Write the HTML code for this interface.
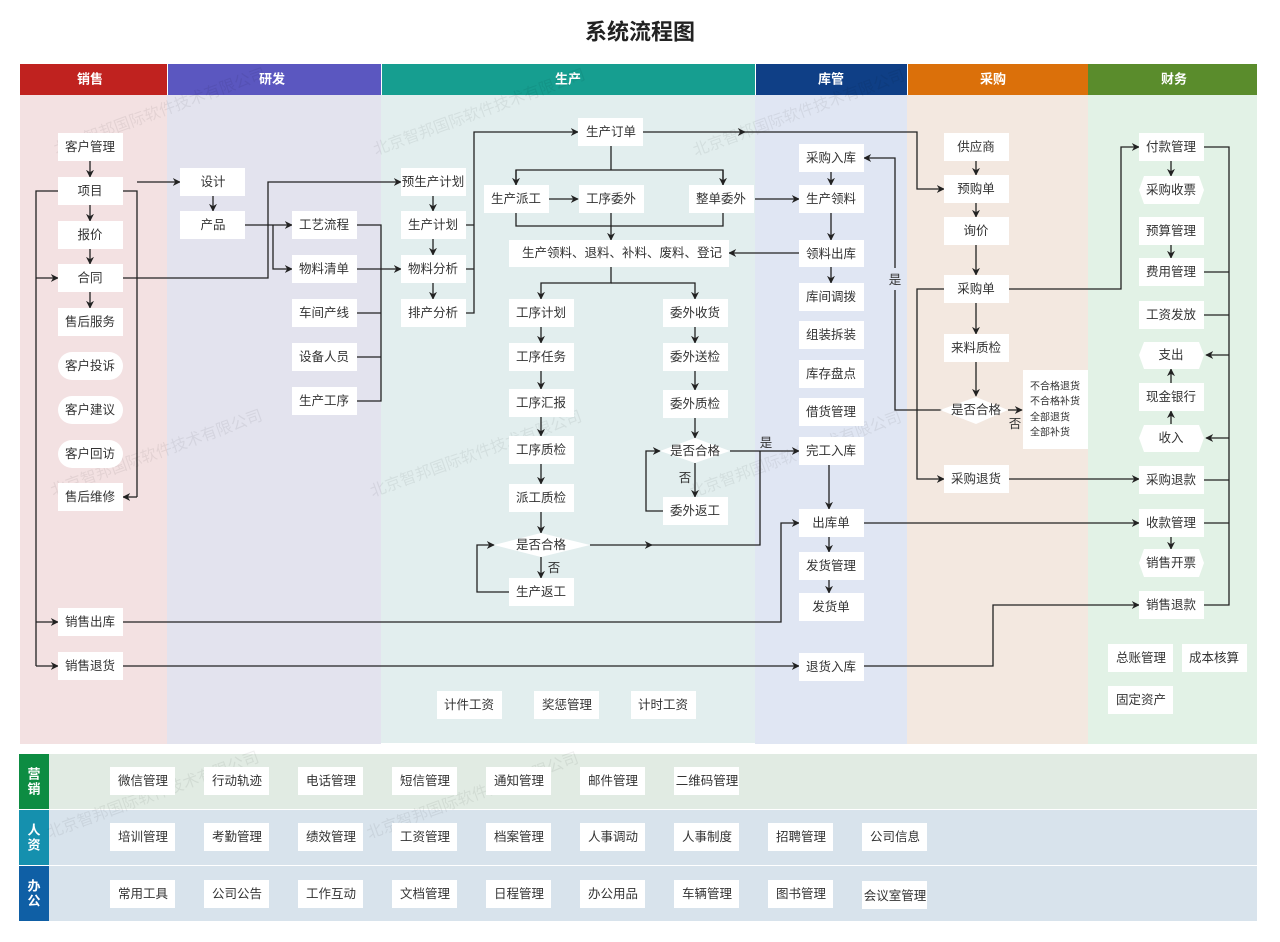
<!DOCTYPE html>
<html><head><meta charset="utf-8"><style>
html,body{margin:0;padding:0;background:#fff;width:1280px;height:942px;overflow:hidden;}
svg{display:block;font-family:"Liberation Sans","Noto Sans CJK SC",sans-serif;}
.b{fill:#fff;}
text{font-size:12.5px;fill:#333;text-anchor:middle;dominant-baseline:central;}
.h{fill:#fff;font-size:13px;font-weight:bold;}
.l{stroke:#222;stroke-width:1.3;fill:none;}
.wm{font-size:16px;fill:#000;opacity:0.06;text-anchor:start;}
</style></head><body>
<svg width="1280" height="942" viewBox="0 0 1280 942" xmlns="http://www.w3.org/2000/svg">
<defs><marker id="a" viewBox="0 0 10 10" refX="9" refY="5" markerWidth="8" markerHeight="8" orient="auto" markerUnits="userSpaceOnUse"><path d="M0,0L10,5L0,10L3,5z" fill="#222"/></marker></defs>
<text x="640" y="32" style="font-size:22px;font-weight:bold;fill:#222">系统流程图</text>
<!-- lanes -->
<rect x="20" y="95" width="147" height="649" fill="#f3e1e2"/>
<rect x="167" y="95" width="214" height="649" fill="#e3e3ee"/>
<rect x="381" y="95" width="374" height="648" fill="#e2eeee"/>
<rect x="755" y="95" width="152" height="649" fill="#e0e6f3"/>
<rect x="907" y="95" width="181" height="649" fill="#f3e8e0"/>
<rect x="1088" y="95" width="169" height="649" fill="#e2f2e6"/>
<rect x="20" y="64" width="147" height="31" fill="#c0221f"/><text class="h" x="90" y="79">销售</text>
<rect x="168" y="64" width="213" height="31" fill="#5b57c0"/><text class="h" x="272" y="79">研发</text>
<rect x="382" y="64" width="373" height="31" fill="#169e90"/><text class="h" x="568" y="79">生产</text>
<rect x="756" y="64" width="151" height="31" fill="#0f3f86"/><text class="h" x="831" y="79">库管</text>
<rect x="908" y="64" width="180" height="31" fill="#db700a"/><text class="h" x="993" y="79">采购</text>
<rect x="1088" y="64" width="169" height="31" fill="#5a8c2c"/><text class="h" x="1174" y="79">财务</text>
<!-- bottom rows -->
<rect x="49" y="754" width="1208" height="55" fill="#e1ebe3"/>
<rect x="49" y="810" width="1208" height="55" fill="#d8e3ec"/>
<rect x="49" y="866" width="1208" height="55" fill="#d8e3ec"/>
<rect x="19" y="754" width="30" height="55" fill="#0d8c42"/>
<rect x="19" y="810" width="30" height="55" fill="#1590ae"/>
<rect x="19" y="866" width="30" height="55" fill="#0f5fa5"/>
<text class="h" x="34" y="774">营</text><text class="h" x="34" y="789">销</text>
<text class="h" x="34" y="830">人</text><text class="h" x="34" y="845">资</text>
<text class="h" x="34" y="886">办</text><text class="h" x="34" y="901">公</text>
<!-- watermarks -->
<g transform="rotate(-20)">
<text class="wm" x="0" y="160">北京智邦国际软件技术有限公司</text>
<text class="wm" x="300" y="270">北京智邦国际软件技术有限公司</text>
<text class="wm" x="600" y="380">北京智邦国际软件技术有限公司</text>
<text class="wm" x="-120" y="480">北京智邦国际软件技术有限公司</text>
<text class="wm" x="180" y="590">北京智邦国际软件技术有限公司</text>
<text class="wm" x="480" y="700">北京智邦国际软件技术有限公司</text>
<text class="wm" x="-240" y="800">北京智邦国际软件技术有限公司</text>
<text class="wm" x="60" y="910">北京智邦国际软件技术有限公司</text>
</g>
<!-- connectors -->
<g class="l">
<path d="M90,161V177" marker-end="url(#a)"/>
<path d="M90,205V221" marker-end="url(#a)"/>
<path d="M90,249V264" marker-end="url(#a)"/>
<path d="M90,292V308" marker-end="url(#a)"/>
<path d="M58,191H36V666"/>
<path d="M36,278H58" marker-end="url(#a)"/>
<path d="M36,622H58" marker-end="url(#a)"/>
<path d="M36,666H58" marker-end="url(#a)"/>
<path d="M123,191H137V497"/>
<path d="M137,182H180" marker-end="url(#a)"/>
<path d="M137,497H123" marker-end="url(#a)"/>
<path d="M123,278H268V182H401" marker-end="url(#a)"/>
<path d="M213,196V211" marker-end="url(#a)"/>
<path d="M245,225H292" marker-end="url(#a)"/>
<path d="M273,225V269H292" marker-end="url(#a)"/>
<path d="M357,225H381V401H357"/>
<path d="M357,313H381M357,357H381"/>
<path d="M357,269H401" marker-end="url(#a)"/>
<path d="M433,196V211" marker-end="url(#a)"/>
<path d="M433,239V255" marker-end="url(#a)"/>
<path d="M433,283V299" marker-end="url(#a)"/>
<path d="M466,225H474M466,269H474"/>
<path d="M466,313H474V132H578" marker-end="url(#a)"/>
<path d="M643,132H745" marker-end="url(#a)"/>
<path d="M740,132H917V189H944" marker-end="url(#a)"/>
<path d="M611,146V170"/>
<path d="M516,185V170H723V185"/>
<path d="M516,170V185" marker-end="url(#a)"/>
<path d="M723,170V185" marker-end="url(#a)"/>
<path d="M549,199H578" marker-end="url(#a)"/>
<path d="M755,199H799" marker-end="url(#a)"/>
<path d="M516,213V226H723V213"/>
<path d="M611,213V240" marker-end="url(#a)"/>
<path d="M799,253H729" marker-end="url(#a)"/>
<path d="M611,267V283H541V299" marker-end="url(#a)"/>
<path d="M611,283H695V299" marker-end="url(#a)"/>
<path d="M541,327V343" marker-end="url(#a)"/>
<path d="M541,371V389" marker-end="url(#a)"/>
<path d="M541,417V436" marker-end="url(#a)"/>
<path d="M541,464V484" marker-end="url(#a)"/>
<path d="M541,512V533" marker-end="url(#a)"/>
<path d="M541,557V578" marker-end="url(#a)"/>
<path d="M509,592H477V545H494" marker-end="url(#a)"/>
<path d="M590,545H652" marker-end="url(#a)"/>
<path d="M650,545H760V451"/>
<path d="M695,327V343" marker-end="url(#a)"/>
<path d="M695,371V390" marker-end="url(#a)"/>
<path d="M695,418V438" marker-end="url(#a)"/>
<path d="M695,463V497" marker-end="url(#a)"/>
<path d="M663,511H646V451H660" marker-end="url(#a)"/>
<path d="M730,451H799" marker-end="url(#a)"/>
<path d="M831,172V185" marker-end="url(#a)"/>
<path d="M831,213V240" marker-end="url(#a)"/>
<path d="M831,267V283" marker-end="url(#a)"/>
<path d="M829,465V509" marker-end="url(#a)"/>
<path d="M829,537V552" marker-end="url(#a)"/>
<path d="M829,580V593" marker-end="url(#a)"/>
<path d="M944,410H895V290M895,268V158H864" marker-end="url(#a)"/>
<path d="M123,622H781V523H799" marker-end="url(#a)"/>
<path d="M123,666H799" marker-end="url(#a)"/>
<path d="M864,666H993V605H1139" marker-end="url(#a)"/>
<path d="M864,523H1139" marker-end="url(#a)"/>
<path d="M976,161V175" marker-end="url(#a)"/>
<path d="M976,203V217" marker-end="url(#a)"/>
<path d="M976,245V275" marker-end="url(#a)"/>
<path d="M976,303V334" marker-end="url(#a)"/>
<path d="M976,362V396" marker-end="url(#a)"/>
<path d="M944,289H917V479H944" marker-end="url(#a)"/>
<path d="M1009,289H1121V147H1139" marker-end="url(#a)"/>
<path d="M1008,410H1022" marker-end="url(#a)"/>
<path d="M1009,479H1139" marker-end="url(#a)"/>
<path d="M1171,161V176" marker-end="url(#a)"/>
<path d="M1171,245V258" marker-end="url(#a)"/>
<path d="M1171,537V549" marker-end="url(#a)"/>
<path d="M1171,424V411" marker-end="url(#a)"/>
<path d="M1171,383V369" marker-end="url(#a)"/>
<path d="M1204,147H1229V605H1204"/>
<path d="M1204,272H1229M1204,315H1229M1204,480H1229M1204,523H1229"/>
<path d="M1229,355H1206" marker-end="url(#a)"/>
<path d="M1229,438H1206" marker-end="url(#a)"/>
</g>
<text x="895" y="280">是</text>
<text x="766" y="443">是</text>
<text x="554" y="568">否</text>
<text x="685" y="478">否</text>
<text x="1015" y="424">否</text>
<!-- boxes -->
<g>
<rect class="b" x="58" y="133" width="65" height="28"/><text x="90" y="147">客户管理</text>
<rect class="b" x="58" y="177" width="65" height="28"/><text x="90" y="191">项目</text>
<rect class="b" x="58" y="221" width="65" height="28"/><text x="90" y="235">报价</text>
<rect class="b" x="58" y="264" width="65" height="28"/><text x="90" y="278">合同</text>
<rect class="b" x="58" y="308" width="65" height="28"/><text x="90" y="322">售后服务</text>
<rect class="b" x="58" y="352" width="65" height="28" rx="14"/><text x="90" y="366">客户投诉</text>
<rect class="b" x="58" y="396" width="65" height="28" rx="14"/><text x="90" y="410">客户建议</text>
<rect class="b" x="58" y="440" width="65" height="28" rx="14"/><text x="90" y="454">客户回访</text>
<rect class="b" x="58" y="483" width="65" height="28"/><text x="90" y="497">售后维修</text>
<rect class="b" x="58" y="608" width="65" height="28"/><text x="90" y="622">销售出库</text>
<rect class="b" x="58" y="652" width="65" height="28"/><text x="90" y="666">销售退货</text>
<rect class="b" x="180" y="168" width="65" height="28"/><text x="213" y="182">设计</text>
<rect class="b" x="180" y="211" width="65" height="28"/><text x="213" y="225">产品</text>
<rect class="b" x="292" y="211" width="65" height="28"/><text x="324" y="225">工艺流程</text>
<rect class="b" x="292" y="255" width="65" height="28"/><text x="324" y="269">物料清单</text>
<rect class="b" x="292" y="299" width="65" height="28"/><text x="324" y="313">车间产线</text>
<rect class="b" x="292" y="343" width="65" height="28"/><text x="324" y="357">设备人员</text>
<rect class="b" x="292" y="387" width="65" height="28"/><text x="324" y="401">生产工序</text>
<rect class="b" x="401" y="168" width="65" height="28"/><text x="433" y="182">预生产计划</text>
<rect class="b" x="401" y="211" width="65" height="28"/><text x="433" y="225">生产计划</text>
<rect class="b" x="401" y="255" width="65" height="28"/><text x="433" y="269">物料分析</text>
<rect class="b" x="401" y="299" width="65" height="28"/><text x="433" y="313">排产分析</text>
<rect class="b" x="578" y="118" width="65" height="28"/><text x="611" y="132">生产订单</text>
<rect class="b" x="484" y="185" width="65" height="28"/><text x="516" y="199">生产派工</text>
<rect class="b" x="579" y="185" width="65" height="28"/><text x="611" y="199">工序委外</text>
<rect class="b" x="689" y="185" width="65" height="28"/><text x="721" y="199">整单委外</text>
<rect class="b" x="509" y="240" width="220" height="27"/><text x="622" y="253">生产领料、退料、补料、废料、登记</text>
<rect class="b" x="509" y="299" width="65" height="28"/><text x="541" y="313">工序计划</text>
<rect class="b" x="509" y="343" width="65" height="28"/><text x="541" y="357">工序任务</text>
<rect class="b" x="509" y="389" width="65" height="28"/><text x="541" y="403">工序汇报</text>
<rect class="b" x="509" y="436" width="65" height="28"/><text x="541" y="450">工序质检</text>
<rect class="b" x="509" y="484" width="65" height="28"/><text x="541" y="498">派工质检</text>
<polygon class="b" points="494,545 541,533 590,545 541,557"/><text x="541" y="545">是否合格</text>
<rect class="b" x="509" y="578" width="65" height="28"/><text x="541" y="592">生产返工</text>
<rect class="b" x="663" y="299" width="65" height="28"/><text x="695" y="313">委外收货</text>
<rect class="b" x="663" y="343" width="65" height="28"/><text x="695" y="357">委外送检</text>
<rect class="b" x="663" y="390" width="65" height="28"/><text x="695" y="404">委外质检</text>
<polygon class="b" points="660,451 695,438 730,451 695,463"/><text x="695" y="451">是否合格</text>
<rect class="b" x="663" y="497" width="65" height="28"/><text x="695" y="511">委外返工</text>
<rect class="b" x="437" y="691" width="65" height="28"/><text x="469" y="705">计件工资</text>
<rect class="b" x="534" y="691" width="65" height="28"/><text x="567" y="705">奖惩管理</text>
<rect class="b" x="631" y="691" width="65" height="28"/><text x="663" y="705">计时工资</text>
<rect class="b" x="799" y="144" width="65" height="28"/><text x="831" y="158">采购入库</text>
<rect class="b" x="799" y="185" width="65" height="28"/><text x="831" y="199">生产领料</text>
<rect class="b" x="799" y="240" width="65" height="27"/><text x="831" y="254">领料出库</text>
<rect class="b" x="799" y="283" width="65" height="28"/><text x="831" y="297">库间调拨</text>
<rect class="b" x="799" y="321" width="65" height="28"/><text x="831" y="335">组装拆装</text>
<rect class="b" x="799" y="360" width="65" height="28"/><text x="831" y="374">库存盘点</text>
<rect class="b" x="799" y="398" width="65" height="28"/><text x="831" y="412">借货管理</text>
<rect class="b" x="799" y="437" width="65" height="28"/><text x="831" y="451">完工入库</text>
<rect class="b" x="799" y="509" width="65" height="28"/><text x="831" y="523">出库单</text>
<rect class="b" x="799" y="552" width="65" height="28"/><text x="831" y="566">发货管理</text>
<rect class="b" x="799" y="593" width="65" height="28"/><text x="831" y="607">发货单</text>
<rect class="b" x="799" y="653" width="65" height="28"/><text x="831" y="667">退货入库</text>
<rect class="b" x="944" y="133" width="65" height="28"/><text x="976" y="147">供应商</text>
<rect class="b" x="944" y="175" width="65" height="28"/><text x="976" y="189">预购单</text>
<rect class="b" x="944" y="217" width="65" height="28"/><text x="976" y="231">询价</text>
<rect class="b" x="944" y="275" width="65" height="28"/><text x="976" y="289">采购单</text>
<rect class="b" x="944" y="334" width="65" height="28"/><text x="976" y="348">来料质检</text>
<polygon class="b" points="940,410 976,397 1008,410 976,424"/><text x="976" y="410">是否合格</text>
<rect class="b" x="944" y="465" width="65" height="28"/><text x="976" y="479">采购退货</text>
<rect class="b" x="1023" y="370" width="65" height="79"/>
<text x="1055" y="387" style="font-size:10px">不合格退货</text>
<text x="1055" y="402" style="font-size:10px">不合格补货</text>
<text x="1050" y="418" style="font-size:10px">全部退货</text>
<text x="1050" y="433" style="font-size:10px">全部补货</text>
<rect class="b" x="1139" y="133" width="65" height="28"/><text x="1171" y="147">付款管理</text>
<polygon class="b" points="1144,176 1199,176 1204,190 1199,204 1144,204 1139,190"/><text x="1171" y="190">采购收票</text>
<rect class="b" x="1139" y="217" width="65" height="28"/><text x="1171" y="231">预算管理</text>
<rect class="b" x="1139" y="258" width="65" height="28"/><text x="1171" y="272">费用管理</text>
<rect class="b" x="1139" y="301" width="65" height="28"/><text x="1171" y="315">工资发放</text>
<polygon class="b" points="1144,342 1199,342 1204,355 1199,369 1144,369 1139,355"/><text x="1171" y="355">支出</text>
<rect class="b" x="1139" y="383" width="65" height="28"/><text x="1171" y="397">现金银行</text>
<polygon class="b" points="1144,425 1199,425 1204,438 1199,452 1144,452 1139,438"/><text x="1171" y="438">收入</text>
<rect class="b" x="1139" y="466" width="65" height="28"/><text x="1171" y="480">采购退款</text>
<rect class="b" x="1139" y="509" width="65" height="28"/><text x="1171" y="523">收款管理</text>
<polygon class="b" points="1144,549 1199,549 1204,563 1199,577 1144,577 1139,563"/><text x="1171" y="563">销售开票</text>
<rect class="b" x="1139" y="591" width="65" height="28"/><text x="1171" y="605">销售退款</text>
<rect class="b" x="1108" y="644" width="65" height="28"/><text x="1141" y="658">总账管理</text>
<rect class="b" x="1182" y="644" width="65" height="28"/><text x="1214" y="658">成本核算</text>
<rect class="b" x="1108" y="686" width="65" height="28"/><text x="1141" y="700">固定资产</text>
</g>
<!-- bottom row boxes -->
<g>
<rect class="b" x="110" y="767" width="65" height="28"/><text x="143" y="781">微信管理</text>
<rect class="b" x="204" y="767" width="65" height="28"/><text x="237" y="781">行动轨迹</text>
<rect class="b" x="298" y="767" width="65" height="28"/><text x="331" y="781">电话管理</text>
<rect class="b" x="392" y="767" width="65" height="28"/><text x="425" y="781">短信管理</text>
<rect class="b" x="486" y="767" width="65" height="28"/><text x="519" y="781">通知管理</text>
<rect class="b" x="580" y="767" width="65" height="28"/><text x="613" y="781">邮件管理</text>
<rect class="b" x="674" y="767" width="65" height="28"/><text x="707" y="781">二维码管理</text>
<rect class="b" x="110" y="823" width="65" height="28"/><text x="143" y="837">培训管理</text>
<rect class="b" x="204" y="823" width="65" height="28"/><text x="237" y="837">考勤管理</text>
<rect class="b" x="298" y="823" width="65" height="28"/><text x="331" y="837">绩效管理</text>
<rect class="b" x="392" y="823" width="65" height="28"/><text x="425" y="837">工资管理</text>
<rect class="b" x="486" y="823" width="65" height="28"/><text x="519" y="837">档案管理</text>
<rect class="b" x="580" y="823" width="65" height="28"/><text x="613" y="837">人事调动</text>
<rect class="b" x="674" y="823" width="65" height="28"/><text x="707" y="837">人事制度</text>
<rect class="b" x="768" y="823" width="65" height="28"/><text x="801" y="837">招聘管理</text>
<rect class="b" x="862" y="823" width="65" height="28"/><text x="895" y="837">公司信息</text>
<rect class="b" x="110" y="880" width="65" height="28"/><text x="143" y="894">常用工具</text>
<rect class="b" x="204" y="880" width="65" height="28"/><text x="237" y="894">公司公告</text>
<rect class="b" x="298" y="880" width="65" height="28"/><text x="331" y="894">工作互动</text>
<rect class="b" x="392" y="880" width="65" height="28"/><text x="425" y="894">文档管理</text>
<rect class="b" x="486" y="880" width="65" height="28"/><text x="519" y="894">日程管理</text>
<rect class="b" x="580" y="880" width="65" height="28"/><text x="613" y="894">办公用品</text>
<rect class="b" x="674" y="880" width="65" height="28"/><text x="707" y="894">车辆管理</text>
<rect class="b" x="768" y="880" width="65" height="28"/><text x="801" y="894">图书管理</text>
<rect class="b" x="862" y="881" width="65" height="28"/><text x="895" y="896">会议室管理</text>
</g>
</svg>
</body></html>
